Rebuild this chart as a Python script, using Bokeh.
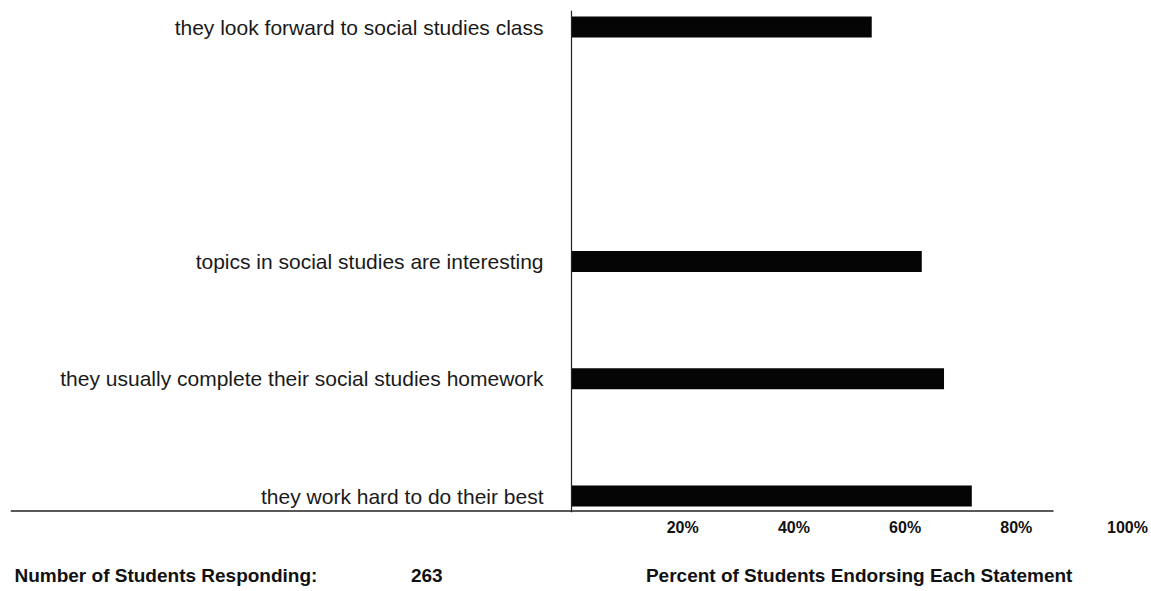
from bokeh.plotting import figure
from bokeh.layouts import column
from bokeh.models import Range1d, FactorRange, FixedTicker, Span
from bokeh.core.properties import value
from bokeh.embed import file_html
from bokeh.resources import INLINE

# ---- data ----
statements = [
    "they work hard to do their best",
    "they usually complete their social studies homework",
    "topics in social studies are interesting",
    "they look forward to social studies class",
]
percents = [72, 67, 63, 54]
tick_values = [20, 40, 60, 80, 100]
tick_labels = ["20%", "40%", "60%", "80%", "100%"]
n_students = "263"
left_caption = "Number of Students Responding:"
bottom_caption = "Percent of Students Endorsing Each Statement"

# ---- layout (styles / geometry) ----
FONT = "Liberation Sans"
FIG_W = 1151
PX_PER_UNIT = 5.56          # pixels per percentage point
BORDER_L = 10
AXIS_OFFSET_PX = 561        # distance from frame left edge to the 0% line
FRAME_W = FIG_W - BORDER_L
BORDER_T = 10
FRAME_H = 502
BORDER_B = 40
MAIN_H = BORDER_T + FRAME_H + BORDER_B
CAP_H = 591 - MAIN_H
SLOT_PX = 117.25            # spacing between category slots
PAD = -(5 - FRAME_H / SLOT_PX) / 2   # absolute factor padding (negative)

x_start = -AXIS_OFFSET_PX / PX_PER_UNIT
x_end = (FRAME_W - AXIS_OFFSET_PX) / PX_PER_UNIT

# bottom-to-top factor order, with one blank slot
factors = statements[:3] + [" "] + statements[3:]

p = figure(
    width=FIG_W, height=MAIN_H,
    x_range=Range1d(x_start, x_end),
    y_range=FactorRange(factors=factors, range_padding=PAD, range_padding_units="absolute"),
    y_axis_location=None,
    min_border_left=BORDER_L, min_border_right=0,
    min_border_top=BORDER_T, min_border_bottom=BORDER_B,
    output_backend="svg", toolbar_location=None,
)
p.outline_line_color = None
p.grid.visible = False

# bars
p.hbar(y=statements, left=0, right=percents, height=0.178,
       fill_color="#050505", line_color=None)

# category labels
p.text(x=[0] * len(statements), y=statements, text=statements,
       x_offset=-28, text_align="right", text_baseline="middle",
       text_font=value(FONT), text_font_size="21px", text_color="#1a1a1a")

# vertical zero line
p.add_layout(Span(location=0, dimension="height", line_color="#222222", line_width=1.2))

# horizontal base line (ends short of the 100% mark, as in the original)
base_y = -PAD + 1.5 / SLOT_PX
p.segment(x0=[x_start], x1=[86.7], y0=[base_y], y1=[base_y],
          line_color="#222222", line_width=1.4)

# x axis
ax = p.xaxis[0]
ax.ticker = FixedTicker(ticks=tick_values)
ax.major_label_overrides = {v: s for v, s in zip(tick_values, tick_labels)}
ax.axis_line_color = None
ax.major_tick_line_color = None
ax.minor_tick_line_color = None
ax.major_tick_out = 0
ax.major_tick_in = 0
ax.major_label_standoff = 6
ax.major_label_text_font = FONT
ax.major_label_text_font_size = "16px"
ax.major_label_text_font_style = "bold"
ax.major_label_text_color = "#111111"

# caption strip (pixel coordinates)
c = figure(
    width=FIG_W, height=CAP_H,
    x_range=Range1d(0, FIG_W), y_range=Range1d(0, CAP_H),
    x_axis_location=None, y_axis_location=None,
    min_border=0, output_backend="svg", toolbar_location=None,
)
c.outline_line_color = None
c.grid.visible = False
cap_x = [4, 404, 641]
cap_text = [left_caption, n_students, bottom_caption]
c.text(x=cap_x, y=[CAP_H / 2 - 3] * 3, text=cap_text, text_align="left", text_baseline="middle",
       text_font=value(FONT), text_font_size="19px", text_font_style="bold",
       text_color="#111111")

layout = column(p, c, spacing=0)
open("out.html", "w").write(file_html(layout, INLINE))
